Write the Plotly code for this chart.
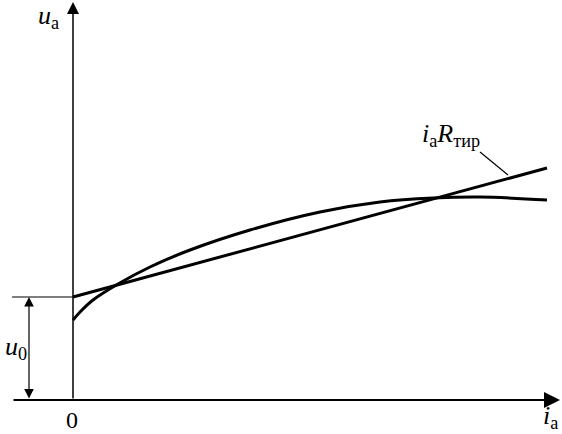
import plotly.graph_objects as go

# Data (in chart units: i = current, u = voltage)
curve_i = [0, 8, 20, 45, 77, 117, 177, 247, 307, 360, 407, 474]
curve_u = [80, 89, 100, 116, 133, 150, 170, 188, 198, 202, 203, 200]
line_i = [0, 474]
line_u = [103, 232]
u0 = line_u[0]

FONT = "Liberation Serif"
BLACK = "black"

fig = go.Figure()
fig.add_trace(go.Scatter(x=curve_i, y=curve_u, mode="lines", line=dict(color=BLACK, width=3, shape="spline", smoothing=1.0), hoverinfo="skip"))
fig.add_trace(go.Scatter(x=line_i, y=line_u, mode="lines", line=dict(color=BLACK, width=3), hoverinfo="skip"))

shapes = [
    dict(type="line", x0=-61, y0=u0, x1=0, y1=u0, line=dict(color=BLACK, width=1.2)),
    dict(type="line", x0=407, y0=248, x1=435, y1=225, line=dict(color=BLACK, width=1.2)),
]

def arrow(x, y, ax, ay, width=1.5, side="end"):
    return dict(x=x, y=y, ax=ax, ay=ay, xref="x", yref="y", axref="x", ayref="y",
                showarrow=True, arrowhead=2, arrowsize=1.6, arrowwidth=width,
                arrowcolor=BLACK, text="", arrowside=side, startarrowhead=2, startarrowsize=1.6)

def label(x, y, text, size=26):
    return dict(x=x, y=y, xref="x", yref="y", text=text, showarrow=False,
                font=dict(family=FONT, size=size, color=BLACK), xanchor="center", yanchor="middle")

annotations = [
    arrow(0, 398, 0, 0, width=1.5),
    arrow(487, 0, -61, 0, width=2),
    arrow(-44, u0, -44, 0, width=1.2, side="end+start"),
    label(-25, 383, "<i>u</i><sub>a</sub>"),
    label(-57, 52, "<i>u</i><sub>0</sub>"),
    label(-1, -20, "0", size=24),
    label(477, -17, "<i>i</i><sub>a</sub>"),
    label(378, 265, "<i>i</i><sub>a</sub><i>R</i><sub>тир</sub>"),
]

fig.update_layout(
    width=562, height=434,
    margin=dict(l=0, r=0, t=0, b=0),
    plot_bgcolor="white", paper_bgcolor="white",
    showlegend=False,
    xaxis=dict(range=[-73, 489], visible=False, fixedrange=True),
    yaxis=dict(range=[-34, 400], visible=False, fixedrange=True),
    shapes=shapes,
    annotations=annotations,
)

fig.write_html("out.html", config={"displayModeBar": False},
               post_script="document.body.style.margin='0';document.body.style.overflow='hidden';")
